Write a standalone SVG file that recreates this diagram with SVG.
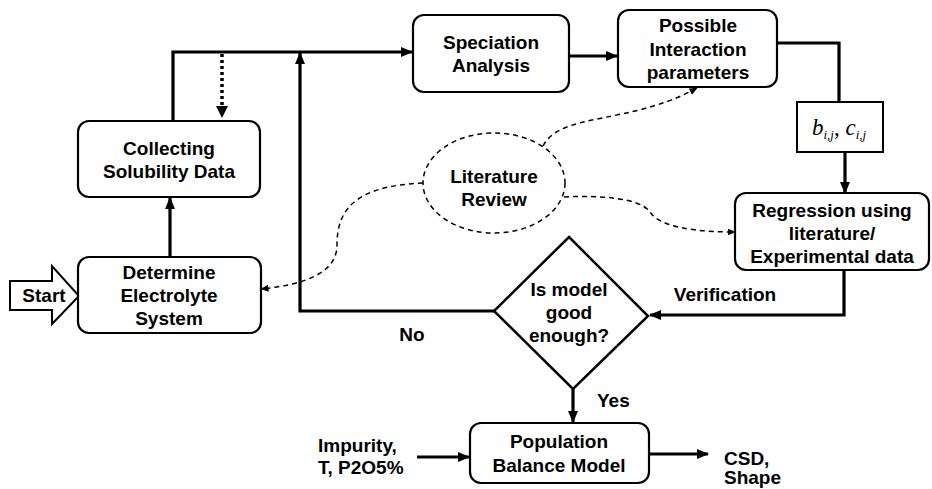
<svg xmlns="http://www.w3.org/2000/svg" width="932" height="489" viewBox="0 0 932 489">
<defs>
<marker id="ah" markerUnits="userSpaceOnUse" markerWidth="12" markerHeight="12" viewBox="0 0 12 12" refX="11" refY="6" orient="auto"><path d="M0,1 L12,6 L0,11 z" fill="#000"/></marker>
<marker id="ahs" markerUnits="userSpaceOnUse" markerWidth="8" markerHeight="8" viewBox="0 0 8 8" refX="7.5" refY="4" orient="auto"><path d="M0,0.5 L8,4 L0,7.5 z" fill="#000"/></marker>
</defs>
<style>
.box{fill:#fff;stroke:#000;stroke-width:2.2}
.t{font-family:"Liberation Sans",Arial,sans-serif;font-weight:bold;font-size:19px;fill:#000;text-anchor:middle}
.tl{font-family:"Liberation Sans",Arial,sans-serif;font-weight:bold;font-size:19px;fill:#000;text-anchor:start}
.c{fill:none;stroke:#000;stroke-width:3.2}
.cn{fill:none;stroke:#000;stroke-width:3.2}
.d{fill:none;stroke:#000;stroke-width:1.5;stroke-dasharray:5,4}
.dot{fill:none;stroke:#000;stroke-width:3.5;stroke-dasharray:3,3}
.m{font-family:"Liberation Serif","Times New Roman",serif;font-style:italic;fill:#000}
</style>
<rect width="932" height="489" fill="#fff"/>

<g id="connectors">
<path class="c" d="M170,257 L170,198" marker-end="url(#ah)"/>
<path class="cn" d="M173,121 L173,52 L412,52" marker-end="url(#ah)"/>
<path class="dot" d="M222,54 L222,108"/>
<path d="M216,106 L228,106 L222,118 z" fill="#000"/>
<path class="cn" d="M494,311 L300,311 L300,53" marker-end="url(#ah)"/>
<path class="c" d="M569,56 L617,56" marker-end="url(#ah)"/>
<path class="cn" d="M777,43 L839,43 L839,102"/>
<path class="c" d="M845,152 L845,193" marker-end="url(#ah)"/>
<path class="cn" d="M844,270 L844,315 L650,315" marker-end="url(#ah)"/>
<path class="c" d="M573,389 L573,422" marker-end="url(#ah)"/>
<path class="c" d="M417,457 L469,457" marker-end="url(#ah)"/>
<path class="c" d="M649,454 L708,454" marker-end="url(#ah)"/>
<path class="d" d="M543,146 C560,112 630,125 697,88" marker-end="url(#ahs)"/>
<path class="d" d="M564,197 C600,195 640,198 650,212 C660,228 700,232 735,232" marker-end="url(#ahs)"/>
<path class="d" d="M423,183 C352,186 337,212 337,245 C337,275 300,285 261,289" marker-end="url(#ahs)"/>
</g>

<g id="start">
<path d="M10,281 L52,281 L52,266 L79,296 L52,324 L52,310 L10,310 z" fill="#fff" stroke="#000" stroke-width="2"/>
<text class="t" x="44" y="302">Start</text>
</g>

<g id="determine">
<rect class="box" x="78" y="257" width="183" height="76" rx="11"/>
<text class="t" x="169" y="279">Determine</text>
<text class="t" x="169" y="302">Electrolyte</text>
<text class="t" x="169" y="325">System</text>
</g>

<g id="collecting">
<rect class="box" x="78" y="121" width="182" height="76" rx="11"/>
<text class="t" x="169" y="155">Collecting</text>
<text class="t" x="169" y="178">Solubility Data</text>
</g>

<g id="speciation">
<rect class="box" x="413" y="15" width="156" height="77" rx="11"/>
<text class="t" x="491" y="49">Speciation</text>
<text class="t" x="491" y="72">Analysis</text>
</g>

<g id="possible">
<rect class="box" x="618" y="10" width="159" height="77" rx="11"/>
<text class="t" x="698" y="32">Possible</text>
<text class="t" x="698" y="56">Interaction</text>
<text class="t" x="698" y="79">parameters</text>
</g>

<g id="params">
<rect x="797" y="102" width="86" height="50" fill="#fff" stroke="#000" stroke-width="2"/>
<text class="m" x="812" y="135" font-size="23">b<tspan font-size="13" dy="4">i,j</tspan><tspan font-size="23" dy="-4" font-style="normal">, </tspan>c<tspan font-size="13" dy="4">i,j</tspan></text>
</g>

<g id="literature">
<ellipse cx="494" cy="183" rx="71" ry="50" fill="#fff" stroke="#000" stroke-width="1.5" stroke-dasharray="5,4"/>
<text class="t" x="494" y="183">Literature</text>
<text class="t" x="494" y="206">Review</text>
</g>

<g id="regression">
<rect class="box" x="735" y="193" width="194" height="77" rx="11"/>
<text class="t" x="832" y="217">Regression using</text>
<text class="t" x="832" y="240">literature/</text>
<text class="t" x="832" y="263">Experimental data</text>
</g>

<g id="decision">
<path d="M569,237 L648,316 L573,389 L494,311 z" fill="#fff" stroke="#000" stroke-width="2.5" stroke-linejoin="miter"/>
<text class="t" x="569" y="296">Is model</text>
<text class="t" x="569" y="319">good</text>
<text class="t" x="569" y="342">enough?</text>
</g>

<g id="population">
<rect class="box" x="470" y="423" width="179" height="60" rx="11"/>
<text class="t" x="559" y="448">Population</text>
<text class="t" x="559" y="472">Balance Model</text>
</g>

<g id="labels">
<text class="t" x="412" y="341">No</text>
<text class="t" x="725" y="301">Verification</text>
<text class="tl" x="597" y="407">Yes</text>
<text class="tl" x="318" y="452">Impurity,</text>
<text class="tl" x="318" y="474">T, P2O5%</text>
<text class="tl" x="724" y="465">CSD,</text>
<text class="tl" x="724" y="484">Shape</text>
</g>
</svg>
